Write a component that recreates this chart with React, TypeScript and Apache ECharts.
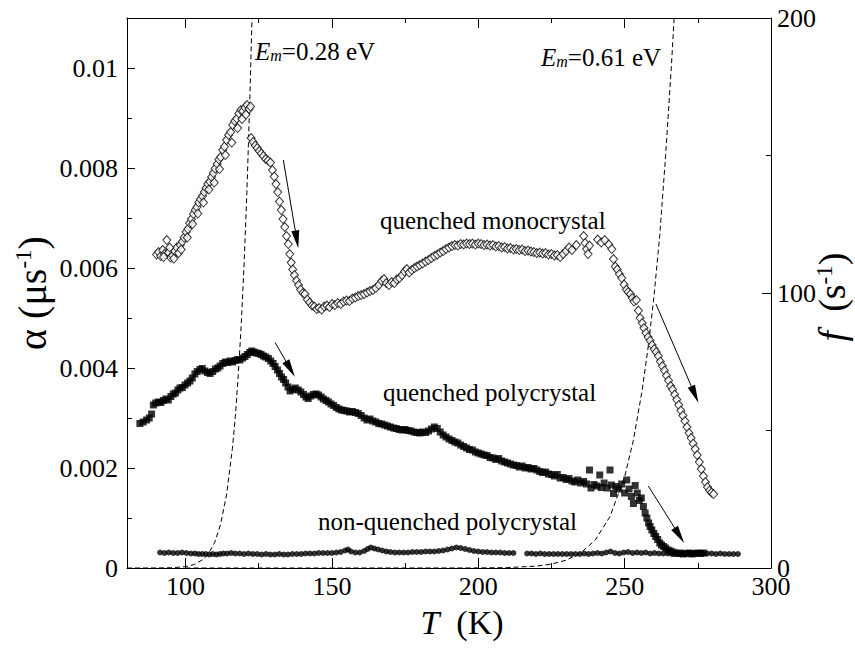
import React, { useEffect, useRef } from 'react';
import * as echarts from 'echarts';

const FONT = 'Liberation Serif';

const X_MIN = 80;
const X_MAX = 300;
const X_MAJOR = [100, 150, 200, 250, 300];
const X_MINOR = [125, 175, 225, 275];
const ALPHA_MAX = 0.011;
const ALPHA_MAJOR = [0, 0.002, 0.004, 0.006, 0.008, 0.01];
const ALPHA_LABELS = ['0', '0.002', '0.004', '0.006', '0.008', '0.01'];
const ALPHA_MINOR = [0.001, 0.003, 0.005, 0.007, 0.009];
const F_MAX = 200;
const F_LABELS = ['0', '100', '200'];

// quenched monocrystal [T (K), alpha (1/us)]
const MONO = [
  [90.1,0.00627],[90.8,0.00632],[91.5,0.00624],[92.2,0.00636],[92.8,0.00628],[93.6,0.00656],[94.2,0.00631],[94.9,0.00621],[95.6,0.00625],[96.3,0.00634],
  [97.0,0.00641],[97.6,0.00630],[98.2,0.00646],[98.9,0.00653],[99.5,0.00661],[100.2,0.00672],[100.8,0.00678],[101.4,0.00690],[102.0,0.00698],[102.7,0.00708],
  [103.3,0.00716],[103.9,0.00722],[104.5,0.00731],[105.1,0.00738],[105.8,0.00744],[106.4,0.00752],[107.0,0.00760],[107.6,0.00768],[108.3,0.00773],[108.9,0.00782],
  [109.5,0.00790],[110.1,0.00799],[110.8,0.00808],[111.4,0.00817],[112.0,0.00822],[112.7,0.00836],[113.3,0.00843],[114.0,0.00856],[114.7,0.00866],[115.4,0.00872],
  [116.1,0.00886],[116.8,0.00894],[117.5,0.00899],[118.2,0.00909],[118.9,0.00916],[119.6,0.00914],[120.3,0.00921],[121.0,0.00926],[121.7,0.00918],[122.2,0.00923],
  [92.5,0.00622],[94.6,0.00641],[96.0,0.00619],[98.5,0.00637],[100.6,0.00661],[102.4,0.00688],[104.2,0.00709],[106.1,0.00731],[108.0,0.00757],[109.8,0.00771],
  [111.6,0.00798],[113.6,0.00826],[115.8,0.00851],[117.8,0.00880],[119.3,0.00898],[120.6,0.00907],
  [122.4,0.00860],[123.1,0.00852],[123.8,0.00845],[124.5,0.00840],[125.2,0.00834],[125.9,0.00829],[126.6,0.00824],[127.4,0.00818],[128.2,0.00815],[129.0,0.00811],
  [129.7,0.00796],[130.3,0.00783],[130.9,0.00768],[131.5,0.00752],[132.1,0.00733],[132.7,0.00716],[133.3,0.00698],[133.9,0.00682],[134.5,0.00664],[135.1,0.00648],
  [135.6,0.00628],[136.1,0.00611],[136.6,0.00597],[137.2,0.00586],[137.9,0.00575],[138.6,0.00566],[139.3,0.00557],[140.1,0.00550],[140.8,0.00548],[141.6,0.00537],
  [142.4,0.00531],[143.2,0.00525],[144.0,0.00523],[144.8,0.00518],[145.6,0.00520],[146.5,0.00517],[147.4,0.00523],[148.3,0.00525],[149.2,0.00522],[150.1,0.00528],
  [151.0,0.00526],[152.0,0.00530],[153.0,0.00528],[154.0,0.00533],[155.0,0.00535],[156.0,0.00534],[157.0,0.00539],[158.0,0.00541],[159.0,0.00544],[160.0,0.00546],
  [161.0,0.00548],[162.0,0.00551],[163.0,0.00554],[164.0,0.00556],[165.0,0.00560],[166.0,0.00566],[167.0,0.00574],[167.8,0.00578],[168.6,0.00570],[169.5,0.00566],
  [170.4,0.00572],[171.3,0.00570],[172.2,0.00577],[173.1,0.00580],[174.0,0.00586],[174.8,0.00593],[175.6,0.00598],[176.4,0.00591],[177.3,0.00596],[178.2,0.00600],
  [179.1,0.00603],[180.0,0.00606],[181.0,0.00609],[182.0,0.00613],[183.0,0.00616],[184.0,0.00620],[185.0,0.00624],[186.0,0.00627],[187.0,0.00631],[188.0,0.00634],
  [189.0,0.00638],[190.0,0.00641],[191.0,0.00644],[192.0,0.00646],[193.0,0.00645],[194.0,0.00648],[195.0,0.00647],[196.0,0.00649],[197.0,0.00648],[198.0,0.00649],
  [199.0,0.00647],[200.0,0.00649],[201.0,0.00648],[202.0,0.00646],[203.0,0.00647],[204.0,0.00645],[205.0,0.00646],[206.0,0.00643],[207.0,0.00644],[208.0,0.00641],
  [209.0,0.00642],[210.0,0.00639],[211.0,0.00640],[212.0,0.00637],[213.0,0.00638],[214.0,0.00636],[215.0,0.00637],[216.0,0.00634],[217.0,0.00635],[218.0,0.00633],
  [219.0,0.00632],[220.0,0.00630],[221.0,0.00631],[222.0,0.00629],[223.0,0.00630],[224.0,0.00627],[225.0,0.00628],[226.0,0.00625],[227.0,0.00626],[228.0,0.00622],
  [229.0,0.00628],[230.0,0.00634],[231.0,0.00641],[232.0,0.00636],[233.5,0.00646],[236.0,0.00664],[236.5,0.00650],[237.0,0.00638],[237.5,0.00628],[238.0,0.00645],
  [240.8,0.00657],[242.0,0.00651],[243.2,0.00656],[244.6,0.00647],[245.6,0.00638],[246.2,0.00618],[246.8,0.00603],[247.5,0.00597],[248.2,0.00588],[249.0,0.00580],
  [249.8,0.00567],[250.6,0.00557],[251.2,0.00552],[252.0,0.00548],[252.6,0.00540],[253.2,0.00533],[254.0,0.00536],[254.7,0.00515],[255.3,0.00500],[256.0,0.00490],
  [256.6,0.00480],[257.3,0.00470],[258.0,0.00462],[258.7,0.00455],[259.4,0.00446],[260.1,0.00438],[260.8,0.00432],[261.5,0.00424],[262.2,0.00413],[262.9,0.00404],
  [263.6,0.00395],[264.3,0.00385],[265.0,0.00375],[265.7,0.00364],[266.4,0.00357],[267.1,0.00347],[267.8,0.00337],[268.5,0.00326],[269.2,0.00315],[269.9,0.00305],
  [270.6,0.00294],[271.3,0.00282],[272.0,0.00270],[272.7,0.00260],[273.4,0.00249],[274.1,0.00238],[274.8,0.00226],[275.5,0.00212],[276.2,0.00198],[276.9,0.00184],
  [277.6,0.00172],[278.3,0.00162],[279.0,0.00155],[279.7,0.00151],[280.4,0.00148]
];

// quenched polycrystal
const POLY = [
  [84.4,0.00289],[85.5,0.00292],[86.7,0.00296],[87.6,0.00300],[88.4,0.00308],[89.0,0.00326],[89.8,0.00330],[90.7,0.00332],[91.6,0.00331],[92.4,0.00335],
  [93.3,0.00338],[94.1,0.00336],[95.0,0.00343],[95.8,0.00348],[96.6,0.00350],[97.4,0.00356],[98.1,0.00360],[98.9,0.00361],[99.8,0.00366],[100.7,0.00370],
  [101.5,0.00374],[102.3,0.00380],[103.2,0.00388],[104.0,0.00393],[104.9,0.00397],[105.7,0.00399],[106.6,0.00394],[107.5,0.00391],[108.4,0.00389],[109.3,0.00393],
  [110.2,0.00398],[111.0,0.00400],[111.8,0.00404],[112.7,0.00409],[113.6,0.00412],[114.4,0.00411],[115.2,0.00414],[116.1,0.00412],[117.0,0.00415],[117.8,0.00417],
  [118.6,0.00416],[119.5,0.00420],[120.3,0.00423],[121.1,0.00427],[121.9,0.00431],[122.6,0.00434],[123.4,0.00432],[124.2,0.00430],[125.0,0.00429],[125.8,0.00427],
  [126.6,0.00424],[127.4,0.00422],[128.3,0.00419],[129.1,0.00414],[129.9,0.00409],[130.6,0.00403],[131.4,0.00396],[132.1,0.00389],[132.8,0.00382],[133.5,0.00377],
  [134.2,0.00370],[135.0,0.00362],[135.7,0.00354],[136.6,0.00357],[137.5,0.00360],[138.5,0.00356],[139.4,0.00352],[140.3,0.00347],[141.1,0.00342],[141.9,0.00339],
  [142.8,0.00344],[143.7,0.00347],[144.6,0.00348],[145.4,0.00346],[146.3,0.00342],[147.1,0.00338],[148.0,0.00335],[148.8,0.00332],[149.7,0.00328],[150.6,0.00325],
  [151.5,0.00321],[152.4,0.00318],[153.3,0.00316],[154.2,0.00315],[155.1,0.00314],[156.0,0.00312],[157.0,0.00313],[158.0,0.00311],[159.0,0.00309],[160.0,0.00305],
  [161.0,0.00300],[162.0,0.00296],[163.0,0.00298],[164.0,0.00294],[165.0,0.00292],[166.0,0.00289],[167.0,0.00288],[168.0,0.00286],[169.0,0.00284],[170.0,0.00282],
  [171.0,0.00280],[172.0,0.00279],[173.0,0.00277],[174.0,0.00276],[175.0,0.00277],[176.0,0.00275],[177.0,0.00274],[178.0,0.00272],[179.0,0.00271],[180.0,0.00270],
  [181.0,0.00272],[182.0,0.00271],[183.0,0.00274],[184.0,0.00278],[185.0,0.00282],[186.0,0.00279],[187.0,0.00272],[188.0,0.00266],[189.0,0.00262],[190.0,0.00258],
  [191.0,0.00255],[192.0,0.00252],[193.0,0.00250],[194.0,0.00246],[195.0,0.00243],[196.0,0.00240],[197.0,0.00237],[198.0,0.00236],[199.0,0.00232],[200.0,0.00230],
  [201.0,0.00228],[202.0,0.00226],[203.0,0.00225],[204.0,0.00221],[205.0,0.00220],[206.0,0.00217],[207.0,0.00219],[208.0,0.00214],[209.0,0.00212],[210.0,0.00210],
  [211.0,0.00208],[212.0,0.00206],[213.0,0.00205],[214.0,0.00202],[215.0,0.00204],[216.0,0.00200],[217.0,0.00201],[218.0,0.00198],[219.0,0.00199],[220.0,0.00196],
  [221.0,0.00193],[222.0,0.00191],[223.0,0.00192],[224.0,0.00188],[225.0,0.00187],[226.0,0.00184],[227.0,0.00187],[228.0,0.00180],[229.0,0.00181],[230.0,0.00177],
  [231.0,0.00179],[232.0,0.00174],[233.0,0.00172],[234.0,0.00176],[235.0,0.00170],[236.0,0.00173],[237.0,0.00168],[238.0,0.00196],[238.5,0.00160],[239.5,0.00167],
  [240.5,0.00164],[241.5,0.00186],[242.0,0.00161],[243.0,0.00170],[244.0,0.00160],[245.0,0.00196],[245.5,0.00166],[246.2,0.00149],[247.0,0.00163],[248.0,0.00158],
  [249.0,0.00168],[250.0,0.00150],[250.7,0.00176],[251.5,0.00158],[252.3,0.00143],[253.0,0.00129],[253.6,0.00165],[254.3,0.00150],[255.0,0.00135],[255.7,0.00140],
  [256.4,0.00123],[257.0,0.00110],[257.6,0.00100],[258.2,0.00090],[258.7,0.00083],[259.3,0.00076],[260.0,0.00069],[260.6,0.00063],[261.3,0.00057],[262.0,0.00050],
  [262.6,0.00046],[263.3,0.00043],[264.0,0.00040],[264.8,0.00036],[265.6,0.00034],[266.4,0.00032],[267.2,0.00030],[268.0,0.00029],[269.0,0.00030],[270.0,0.00028],
  [271.0,0.00029],[272.0,0.00030],[273.0,0.00028],[274.0,0.00029],[275.0,0.00030],[276.0,0.00029],[277.0,0.00030]
];

// non-quenched polycrystal
const NONQ = [
  [91.3,0.00031],[92.8,0.00030],[94.3,0.00031],[95.8,0.00030],[97.3,0.00030],[98.8,0.00031],[100.3,0.00030],[101.8,0.00029],[103.2,0.00029],[104.5,0.00028],
  [105.7,0.00028],[106.9,0.00028],[108.1,0.00027],[109.3,0.00028],[110.5,0.00027],[111.7,0.00028],[112.9,0.00029],[114.2,0.00029],[115.6,0.00030],[117.0,0.00029],
  [118.5,0.00029],[120.0,0.00028],[121.5,0.00029],[123.0,0.00028],[124.5,0.00028],[126.0,0.00027],[127.5,0.00028],[129.0,0.00027],[130.5,0.00027],[132.0,0.00028],
  [133.5,0.00027],[135.0,0.00027],[136.5,0.00028],[138.0,0.00028],[139.5,0.00028],[141.0,0.00029],[142.5,0.00029],[144.0,0.00029],[145.5,0.00030],[147.0,0.00030],
  [148.5,0.00030],[150.0,0.00030],[151.5,0.00031],[153.0,0.00032],[154.5,0.00035],[155.5,0.00037],[156.5,0.00033],[158.0,0.00031],[159.5,0.00031],[161.0,0.00034],
  [162.2,0.00038],[163.3,0.00041],[164.5,0.00039],[165.8,0.00037],[167.2,0.00035],[168.6,0.00033],[170.0,0.00032],[171.5,0.00031],[173.0,0.00031],[174.5,0.00031],
  [176.0,0.00031],[177.5,0.00032],[179.0,0.00032],[180.5,0.00032],[182.0,0.00033],[183.5,0.00033],[185.0,0.00033],[186.5,0.00034],[188.0,0.00035],[189.5,0.00037],
  [191.0,0.00039],[192.5,0.00041],[194.0,0.00040],[195.5,0.00038],[197.0,0.00036],[198.5,0.00034],[200.0,0.00033],[201.5,0.00032],[203.0,0.00032],[204.5,0.00031],
  [206.0,0.00031],[207.5,0.00031],[209.0,0.00030],[210.5,0.00030],[212.0,0.00030],
  [216.7,0.00029],[218.2,0.00029],[219.7,0.00028],[221.2,0.00029],[222.7,0.00028],[224.2,0.00028],[225.7,0.00028],[227.2,0.00028],[228.7,0.00028],[230.2,0.00028],
  [231.7,0.00028],[233.2,0.00028],[234.7,0.00028],[236.2,0.00029],[237.7,0.00028],[239.2,0.00029],[240.7,0.00030],[242.2,0.00029],[243.7,0.00031],[245.2,0.00033],
  [246.7,0.00030],[248.2,0.00029],[249.7,0.00031],[251.2,0.00032],[252.7,0.00030],[254.2,0.00031],[255.7,0.00030],[257.2,0.00031],[258.7,0.00029],[260.2,0.00030],
  [261.7,0.00029],[263.2,0.00029],[264.7,0.00029],[266.2,0.00028],[267.7,0.00029],[269.2,0.00028],[270.7,0.00029],[272.2,0.00029],[273.7,0.00030],[275.2,0.00030],
  [276.7,0.00029],[278.2,0.00029],[279.7,0.00029],[281.2,0.00028],[282.7,0.00029],[284.2,0.00028],[285.7,0.00028],[287.2,0.00028],[288.7,0.00028]
];

// hopping-rate curves f (1/s), right axis
const F_028 = [
  [80,0],[85,0.002],[90,0.013],[95,0.09],[100,0.49],[103,1.27],[106,3.1],[108,5.5],[110,9.4],[112,16],
  [114,26.6],[116,43.4],[117,55],[118,70],[119,88],[120,110.5],[121,138],[122,172],[122.7,200]
];
const F_061 = [
  [100,0],[150,0],[200,0.02],[210,0.15],[220,0.7],[225,1.43],[230,2.83],[235,5.5],[240,10.2],[245,18.7],
  [250,33.2],[253,46.5],[256,64.7],[258,80],[260,98.5],[262,121],[264,150],[266,183],[266.9,200]
];

// arrows [T start, alpha start, T end, alpha end]
const ARROWS = [
  [133.4, 0.00816, 138.0, 0.00657],
  [130.6, 0.00451, 135.8, 0.00398],
  [260.7, 0.00528, 274.0, 0.00347],
  [258.1, 0.00164, 268.7, 0.00065]
];

const near = (a: number, b: number) => Math.abs(a - b) < 1e-9;

export default function App() {
  const ref = useRef<HTMLDivElement>(null);
  useEffect(() => {
    if (!ref.current) return;
    const chart = echarts.init(ref.current, null, { renderer: 'svg' });
    const black = '#000';
    const labelStyle = { fontFamily: FONT, fontSize: 26, color: black };
    const xBase: any = {
      type: 'value', min: X_MIN, max: X_MAX,
      splitLine: { show: false },
      axisLine: { show: true, onZero: false, lineStyle: { color: black, width: 1 } },
    };
    const xAxis: any[] = [
      { ...xBase, position: 'bottom',
        axisTick: { show: true, inside: true, length: 10, customValues: X_MAJOR, lineStyle: { color: black } },
        axisLabel: { show: true, customValues: X_MAJOR, margin: 5, ...labelStyle } },
      { ...xBase, position: 'bottom', axisLine: { show: false, onZero: false },
        axisTick: { show: true, inside: true, length: 5, customValues: X_MINOR, lineStyle: { color: black } },
        axisLabel: { show: false } },
      { ...xBase, position: 'top',
        axisTick: { show: true, inside: true, length: 10, customValues: X_MAJOR, lineStyle: { color: black } },
        axisLabel: { show: false } },
      { ...xBase, position: 'top', axisLine: { show: false, onZero: false },
        axisTick: { show: true, inside: true, length: 5, customValues: X_MINOR, lineStyle: { color: black } },
        axisLabel: { show: false } },
    ];
    const yAxis: any[] = [
      { type: 'value', position: 'left', min: 0, max: ALPHA_MAX,
        splitLine: { show: false },
        axisLine: { show: true, onZero: false, lineStyle: { color: black, width: 1 } },
        axisTick: { show: true, inside: true, length: 8, customValues: ALPHA_MAJOR, lineStyle: { color: black } },
        axisLabel: { show: true, customValues: ALPHA_MAJOR, margin: 9, ...labelStyle,
          formatter: (v: number) => {
            const i = ALPHA_MAJOR.findIndex((t) => near(t, v));
            return i >= 0 ? ALPHA_LABELS[i] : '';
          } } },
      { type: 'value', position: 'left', min: 0, max: ALPHA_MAX,
        splitLine: { show: false },
        axisLine: { show: false, onZero: false },
        axisTick: { show: true, inside: true, length: 5, customValues: ALPHA_MINOR, lineStyle: { color: black } },
        axisLabel: { show: false } },
      { type: 'value', position: 'right', min: 0, max: F_MAX, interval: 100,
        splitLine: { show: false },
        axisLine: { show: true, onZero: false, lineStyle: { color: black, width: 1 } },
        axisTick: { show: true, inside: true, length: 9, lineStyle: { color: black } },
        minorTick: { show: true, splitNumber: 2, length: 5, lineStyle: { color: black } },
        minorSplitLine: { show: false },
        axisLabel: { show: true, margin: 6, ...labelStyle,
          formatter: (v: number) => F_LABELS[Math.round(v / 100)] ?? '' } },
    ];

    const dashStyle = { color: black, width: 1, type: [5, 3] };

    const option: any = {
      animation: false,
      backgroundColor: '#fff',
      textStyle: { fontFamily: FONT, color: black },
      grid: { left: 127, right: 84, top: 18, bottom: 80, containLabel: false, show: false },
      xAxis, yAxis,
      series: [
        { type: 'line', xAxisIndex: 0, yAxisIndex: 2, data: F_028, showSymbol: false, symbol: 'none',
          lineStyle: dashStyle, silent: true, z: 1 },
        { type: 'line', xAxisIndex: 0, yAxisIndex: 2, data: F_061, showSymbol: false, symbol: 'none',
          lineStyle: dashStyle, silent: true, z: 1 },
        { type: 'scatter', xAxisIndex: 0, yAxisIndex: 0, data: NONQ, symbol: 'circle', symbolSize: 6,
          itemStyle: { color: black }, silent: true, z: 2 },
        { type: 'scatter', xAxisIndex: 0, yAxisIndex: 0, data: POLY, symbol: 'rect', symbolSize: 7,
          itemStyle: { color: black }, silent: true, z: 3 },
        { type: 'scatter', xAxisIndex: 0, yAxisIndex: 0, data: MONO, symbol: 'diamond', symbolSize: [8, 9],
          itemStyle: { color: '#fff', borderColor: black, borderWidth: 1 }, silent: true, z: 4 },
        { type: 'scatter', xAxisIndex: 0, yAxisIndex: 0, data: [], silent: true, z: 5,
          markLine: {
            silent: true, animation: false,
            symbol: ['none', 'triangle'], symbolSize: [8, 18],
            label: { show: false },
            lineStyle: { color: black, width: 1, type: 'solid' },
            itemStyle: { color: black },
            data: ARROWS.map((a) => [{ coord: [a[0], a[1]] }, { coord: [a[2], a[3]] }]),
          } },
      ],
      graphic: [
        { type: 'text', x: 255, y: 51, silent: true,
          style: { text: '{e|E}{m|m}{n|=0.28 eV}', align: 'left', verticalAlign: 'middle', fill: black,
            fontFamily: FONT, fontSize: 25,
            rich: {
              e: { fontFamily: FONT, fontSize: 25, fontStyle: 'italic', fill: black },
              m: { fontFamily: FONT, fontSize: 16, fontStyle: 'italic', verticalAlign: 'bottom', fill: black },
              n: { fontFamily: FONT, fontSize: 25, fill: black },
            } } },
        { type: 'text', x: 541, y: 57, silent: true,
          style: { text: '{e|E}{m|m}{n|=0.61 eV}', align: 'left', verticalAlign: 'middle', fill: black,
            fontFamily: FONT, fontSize: 25,
            rich: {
              e: { fontFamily: FONT, fontSize: 25, fontStyle: 'italic', fill: black },
              m: { fontFamily: FONT, fontSize: 16, fontStyle: 'italic', verticalAlign: 'bottom', fill: black },
              n: { fontFamily: FONT, fontSize: 25, fill: black },
            } } },
        { type: 'text', x: 380, y: 220, silent: true,
          style: { text: 'quenched monocrystal', fontFamily: FONT, fontSize: 25, fill: black, align: 'left', verticalAlign: 'middle' } },
        { type: 'text', x: 383, y: 392, silent: true,
          style: { text: 'quenched polycrystal', fontFamily: FONT, fontSize: 25, fill: black, align: 'left', verticalAlign: 'middle' } },
        { type: 'text', x: 318, y: 521, silent: true,
          style: { text: 'non-quenched polycrystal', fontFamily: FONT, fontSize: 25, fill: black, align: 'left', verticalAlign: 'middle' } },
        { type: 'text', x: 462, y: 622, silent: true,
          style: { text: '{i|T}{n|  (K)}', align: 'center', verticalAlign: 'middle', fill: black,
            fontFamily: FONT, fontSize: 34,
            rich: {
              i: { fontFamily: FONT, fontSize: 34, fontStyle: 'italic', fill: black },
              n: { fontFamily: FONT, fontSize: 34, fill: black },
            } } },
        { type: 'text', x: 32, y: 293, rotation: Math.PI / 2, silent: true,
          style: { text: '{n|α (μs}{s|-1}{n|)}', align: 'center', verticalAlign: 'middle', fill: black,
            fontFamily: FONT, fontSize: 40,
            rich: {
              n: { fontFamily: FONT, fontSize: 40, fill: black },
              s: { fontFamily: FONT, fontSize: 23, verticalAlign: 'top', fill: black },
            } } },
        { type: 'text', x: 832, y: 297, rotation: Math.PI / 2, silent: true,
          style: { text: '{i|f}{n|  (s}{s|-1}{n|)}', align: 'center', verticalAlign: 'middle', fill: black,
            fontFamily: FONT, fontSize: 38,
            rich: {
              i: { fontFamily: FONT, fontSize: 38, fontStyle: 'italic', fill: black },
              n: { fontFamily: FONT, fontSize: 38, fill: black },
              s: { fontFamily: FONT, fontSize: 23, verticalAlign: 'top', fill: black },
            } } },
      ],
    };
    chart.setOption(option);
    return () => chart.dispose();
  }, []);
  return (
    <div ref={ref} style={{ position: 'fixed', left: 0, top: 0, width: 855, height: 648, background: '#fff' }} />
  );
}
